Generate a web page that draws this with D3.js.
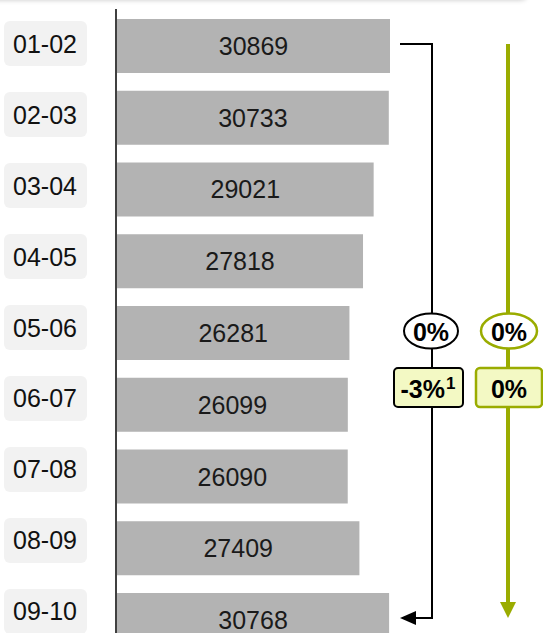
<!DOCTYPE html>
<html>
<head>
<meta charset="utf-8">
<script src="https://cdn.jsdelivr.net/npm/d3@7"></script>
<style>
  html, body { margin: 0; padding: 0; background: #fff; }
  svg { display: block; font-family: Arial, "Liberation Sans", sans-serif; }
</style>
</head>
<body>
<svg id="chart" width="543" height="633"></svg>
<script>
const categories = ["01-02","02-03","03-04","04-05","05-06","06-07","07-08","08-09","09-10"];
const values = [30869, 30733, 29021, 27818, 26281, 26099, 26090, 27409, 30768];
const blackChange = { ellipse: "0%", box: "-3%", sup: "1" };
const greenChange = { ellipse: "0%", box: "0%" };

const svg = d3.select("#chart");
const W = 543, H = 633;
const green = "#9aac00";
const boxFill = "#f3f9c4";

// top shadow
const defs = svg.append("defs");
const f = defs.append("filter").attr("id", "sh").attr("x", "-10%").attr("y", "-200%").attr("width", "120%").attr("height", "500%");
f.append("feGaussianBlur").attr("stdDeviation", 2.5);
svg.append("rect").attr("x", -10).attr("y", -20).attr("width", 537).attr("height", 20)
  .attr("rx", 6).attr("fill", "rgba(0,0,0,0.22)").attr("filter", "url(#sh)");

const x = d3.scaleLinear().domain([0, 30869]).range([117, 390]);
const y = d3.scaleBand().domain(categories).range([19, 647]).paddingInner(0.2474).paddingOuter(0);
const yl = d3.scaleBand().domain(categories).range([21, 634]).paddingInner(0.366).paddingOuter(0);

// bars
svg.append("g").selectAll("rect").data(values).join("rect")
  .attr("x", x(0))
  .attr("y", (d, i) => y(categories[i]))
  .attr("width", d => x(d) - x(0))
  .attr("height", y.bandwidth())
  .attr("fill", "#b3b3b3");

svg.append("g").selectAll("text").data(values).join("text")
  .attr("x", d => (x(0) + x(d)) / 2)
  .attr("y", (d, i) => y(categories[i]) + y.bandwidth() / 2)
  .attr("text-anchor", "middle")
  .attr("dominant-baseline", "central")
  .attr("font-size", 25)
  .attr("fill", "#1a1a1a")
  .text(d => d);

// axis line
svg.append("line").attr("x1", 116).attr("x2", 116).attr("y1", 9).attr("y2", H)
  .attr("stroke", "#000").attr("stroke-width", 1.5);

// category labels
const lg = svg.append("g").selectAll("g").data(categories).join("g");
lg.append("rect")
  .attr("x", 4).attr("y", d => yl(d)).attr("width", 83).attr("height", yl.bandwidth())
  .attr("rx", 6).attr("fill", "#f2f2f2");
lg.append("text")
  .attr("x", 45).attr("y", d => yl(d) + yl.bandwidth() / 2)
  .attr("text-anchor", "middle").attr("dominant-baseline", "central")
  .attr("font-size", 25).attr("fill", "#111")
  .text(d => d);

const yTop = 44, yBot = 618;
const bx = 432, gx = 508;

// black bracket
svg.append("path")
  .attr("d", `M400,${yTop} H${bx} V${yBot} H416`)
  .attr("fill", "none").attr("stroke", "#000").attr("stroke-width", 2);
svg.append("path").attr("d", `M400,${yBot} L416,${yBot - 7} L416,${yBot + 7} Z`).attr("fill", "#000");

// green arrow
svg.append("line").attr("x1", gx).attr("x2", gx).attr("y1", yTop).attr("y2", 604)
  .attr("stroke", green).attr("stroke-width", 4);
svg.append("path").attr("d", `M${gx - 8},602 L${gx + 8},602 L${gx},618 Z`).attr("fill", green);

// ellipses
const eY = 331, boxY = 368, boxH = 39;
svg.append("ellipse").attr("cx", bx - 1).attr("cy", eY).attr("rx", 27).attr("ry", 17.5)
  .attr("fill", "#fff").attr("stroke", "#000").attr("stroke-width", 2);
svg.append("text").attr("x", bx - 1).attr("y", eY + 1).attr("text-anchor", "middle").attr("dominant-baseline", "central")
  .attr("font-size", 25).attr("font-weight", "bold").text(blackChange.ellipse);

svg.append("ellipse").attr("cx", gx + 1).attr("cy", eY).attr("rx", 28).attr("ry", 17.5)
  .attr("fill", "#fff").attr("stroke", green).attr("stroke-width", 2.5);
svg.append("text").attr("x", gx + 1).attr("y", eY + 1).attr("text-anchor", "middle").attr("dominant-baseline", "central")
  .attr("font-size", 25).attr("font-weight", "bold").text(greenChange.ellipse);

// boxes
svg.append("rect").attr("x", 394).attr("y", boxY).attr("width", 69).attr("height", boxH).attr("rx", 4)
  .attr("fill", boxFill).attr("stroke", "#000").attr("stroke-width", 2);
const t1 = svg.append("text").attr("x", 428).attr("y", boxY + boxH / 2 + 1).attr("text-anchor", "middle")
  .attr("dominant-baseline", "central").attr("font-size", 25).attr("font-weight", "bold");
t1.append("tspan").text(blackChange.box);
t1.append("tspan").attr("font-size", 17).attr("dx", 1).attr("dy", -6).text(blackChange.sup);

svg.append("rect").attr("x", 476).attr("y", boxY).attr("width", 66).attr("height", boxH).attr("rx", 4)
  .attr("fill", boxFill).attr("stroke", green).attr("stroke-width", 2.5);
svg.append("text").attr("x", 509).attr("y", boxY + boxH / 2 + 1).attr("text-anchor", "middle")
  .attr("dominant-baseline", "central").attr("font-size", 25).attr("font-weight", "bold").text(greenChange.box);
</script>
</body>
</html>
